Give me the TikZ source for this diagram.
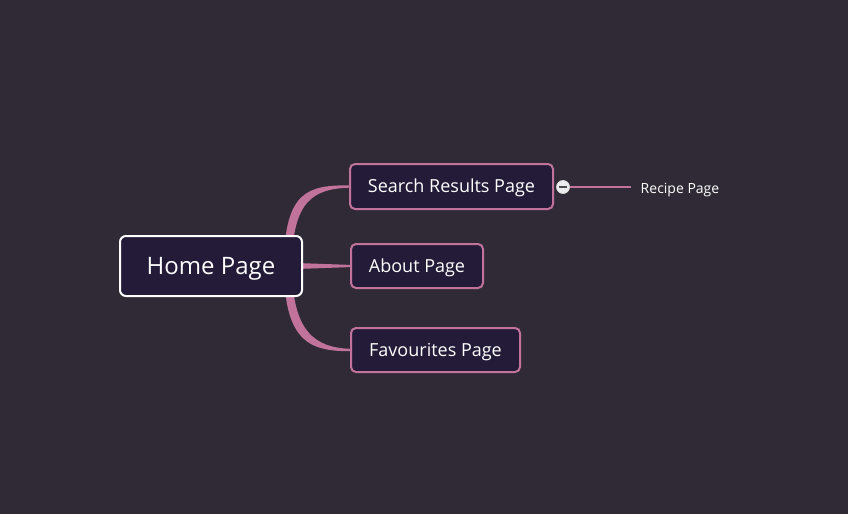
\documentclass[tikz,border=0pt]{standalone}
\usepackage{fontspec}
\setmainfont{Open Sans}
\usetikzlibrary{calc}
\pgfdeclarelayer{bg}
\pgfdeclarelayer{links}
\pgfsetlayers{bg,links,main}
\definecolor{canvas}{RGB}{47,42,53}
\definecolor{boxfill}{RGB}{36,27,56}
\definecolor{branch}{RGB}{193,115,155}
\definecolor{knob}{RGB}{236,236,238}
\tikzset{
  % centre the capital letters on the node centre
  capcenter/.style={text height=#1, text depth=0pt},
  rootbox/.style={draw=white, line width=2pt, fill=boxfill, rounded corners=6pt,
    text=white, font=\fontsize{24}{28}\selectfont, inner sep=0pt, anchor=center,
    capcenter=17.1pt},
  childbox/.style={draw=branch, line width=2pt, fill=boxfill, rounded corners=5pt,
    text=white, font=\fontsize{18}{22}\selectfont, inner sep=0pt, anchor=center,
    capcenter=12.9pt},
  leaftext/.style={text=white, font=\fontsize{14}{17}\selectfont, inner sep=0pt,
    capcenter=10pt},
  limb/.style={fill=branch, draw=none},
  twig/.style={draw=branch, line width=1.5pt},
  knobstyle/.style={circle, fill=knob, draw=white!75!gray, line width=0.7pt,
    minimum size=13pt, inner sep=0pt},
}
\begin{document}
\begin{tikzpicture}[x=1pt, y=-1pt]
  \begin{pgfonlayer}{bg}
    \fill[canvas] (0,0) rectangle (848,514);
  \end{pgfonlayer}
  \useasboundingbox (0,0) rectangle (848,514);

  % nodes
  \node[rootbox, minimum width=182pt, minimum height=60pt] (home) at (211,266) {Home Page};
  \node[childbox, minimum width=203pt, minimum height=45pt] (search) at (451.5,186.5) {Search Results Page};
  \node[childbox, minimum width=132pt, minimum height=44pt] (about) at (417,266) {About Page};
  \node[childbox, minimum width=169pt, minimum height=44pt] (fav) at (435.5,350) {Favourites Page};
  \node[leaftext] (recipe) at (680,188) {Recipe Page};

  % collapse knob and leaf connector
  \node[knobstyle] (knob) at ($(search.east)+(9,0.5)$) {};
  \draw[gray!60!black, line width=1.5pt] ($(knob.center)+(-3.8,0)$) -- ($(knob.center)+(3.8,0)$);
  \coordinate (leafend) at ($(recipe.west)+(-10,-1)$);
  \begin{pgfonlayer}{links}
    \draw[twig] (knob.east) -- (leafend);
  \end{pgfonlayer}

  % tapered branches from the root
  \begin{pgfonlayer}{links}
    \fill[limb] ($(home.east)+(-19,0)$)
      .. controls ($(home.east)+(-19,-76)$) and ($(search.west)+(-40,-1.2)$) .. ($(search.west)+(0,-1.2)$)
      -- ($(search.west)+(0,1.2)$)
      .. controls ($(search.west)+(-35,2.5)$) and ($(home.east)+(-11,-66)$) .. ($(home.east)+(-11,0)$)
      -- cycle;
    \fill[limb] ($(home.east)+(-12,-3.2)$) -- ($(about.west)+(0,-1.1)$)
      -- ($(about.west)+(0,1.1)$) -- ($(home.east)+(-12,3.2)$) -- cycle;
    \fill[limb] ($(home.east)+(-19,0)$)
      .. controls ($(home.east)+(-19,76)$) and ($(fav.west)+(-40,1.2)$) .. ($(fav.west)+(0,1.2)$)
      -- ($(fav.west)+(0,-1.2)$)
      .. controls ($(fav.west)+(-35,-2.5)$) and ($(home.east)+(-11,66)$) .. ($(home.east)+(-11,0)$)
      -- cycle;
  \end{pgfonlayer}
\end{tikzpicture}
\end{document}
